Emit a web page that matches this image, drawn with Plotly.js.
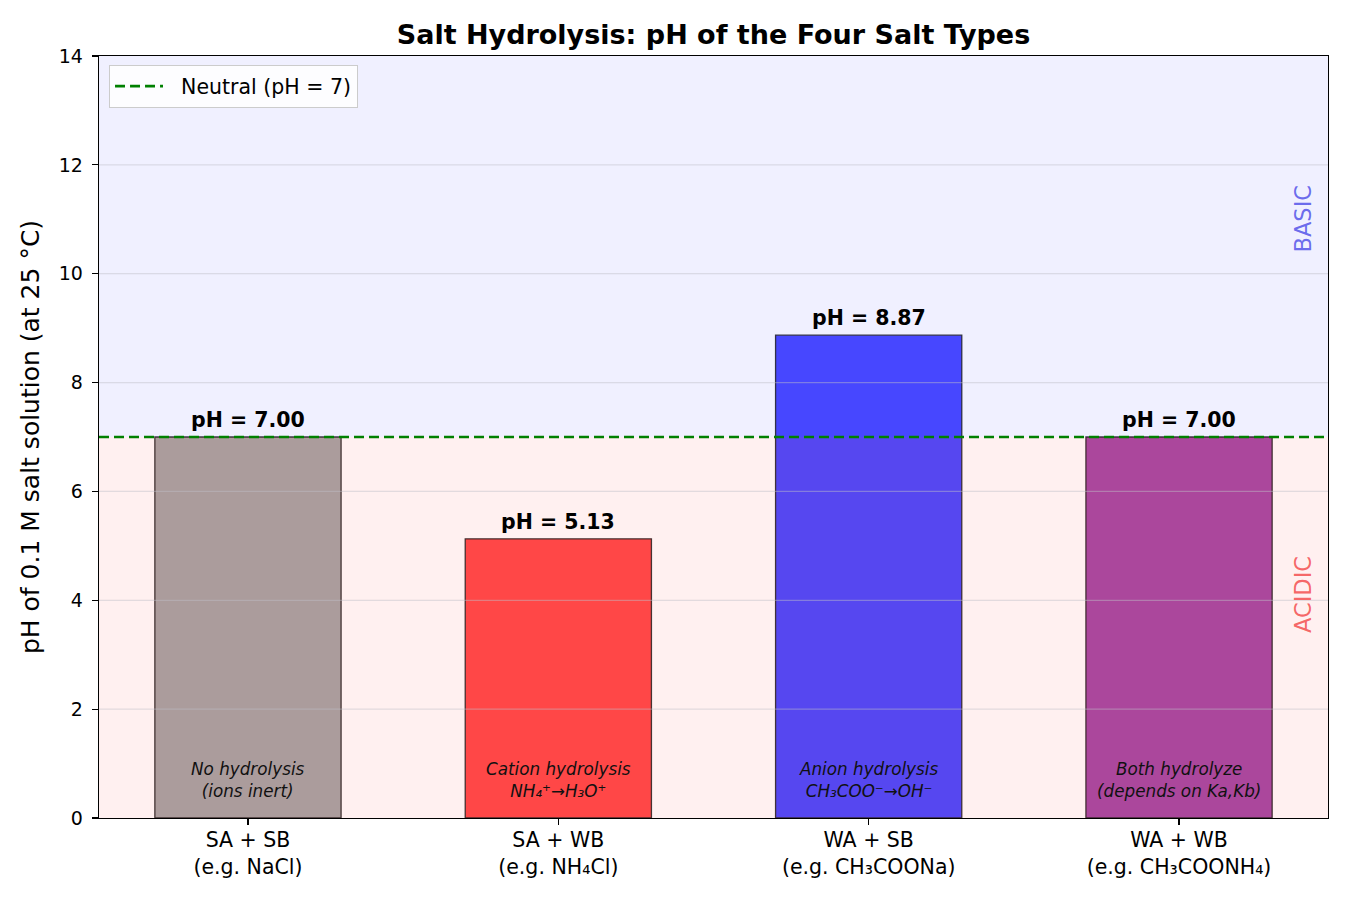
<!DOCTYPE html>
<html>
<head>
<meta charset="utf-8">
<script src="https://cdn.plot.ly/plotly-3.0.1.min.js"></script>
<style>
  html, body { margin: 0; padding: 0; background: #ffffff; }
  #chart { width: 1350px; height: 900px; }
</style>
</head>
<body>
<div id="chart"></div>
<script>
// Salt types (strong/weak acid + strong/weak base) and pH of 0.1 M solutions
const saltTypes = [
  "SA + SB<br>(e.g. NaCl)",
  "SA + WB<br>(e.g. NH₄Cl)",
  "WA + SB<br>(e.g. CH₃COONa)",
  "WA + WB<br>(e.g. CH₃COONH₄)"
];
const phValues = [7.00, 5.13, 8.87, 7.00];
const barColors = ["rgba(128,128,128,0.7)", "rgba(255,0,0,0.7)", "rgba(0,0,255,0.7)", "rgba(128,0,128,0.7)"];
const hydrolysisNotes = [
  "No hydrolysis<br>(ions inert)",
  "Cation hydrolysis<br>NH₄⁺→H₃O⁺",
  "Anion hydrolysis<br>CH₃COO⁻→OH⁻",
  "Both hydrolyze<br>(depends on Ka,Kb)"
];
const neutralPH = 7;
const phMax = 14;
const yTicks = [0, 2, 4, 6, 8, 10, 12, 14];

const FONT = "DejaVu Sans, Verdana, sans-serif";

const bars = {
  type: "bar",
  x: saltTypes,
  y: phValues,
  width: 0.6,
  marker: { color: barColors, line: { color: "rgba(40,40,40,0.9)", width: 1.3 } },
  showlegend: false,
  hoverinfo: "x+y"
};

// Acidic / basic background bands, grid lines and the neutral line sit on top
// of the bars so the translucent tint shows through them.
const shapes = [
  { type: "rect", xref: "paper", x0: 0, x1: 1, yref: "y", y0: 0, y1: neutralPH,
    fillcolor: "rgba(255,0,0,0.06)", line: { width: 0 }, layer: "above" },
  { type: "rect", xref: "paper", x0: 0, x1: 1, yref: "y", y0: neutralPH, y1: phMax,
    fillcolor: "rgba(0,0,255,0.06)", line: { width: 0 }, layer: "above" }
];
yTicks.slice(1, -1).forEach(t => {
  shapes.push({ type: "line", xref: "paper", x0: 0, x1: 1, yref: "y", y0: t, y1: t,
    line: { color: "rgba(190,190,200,0.45)", width: 1.2 }, layer: "above" });
});
shapes.push({
  type: "line", xref: "paper", x0: 0, x1: 1, yref: "y", y0: neutralPH, y1: neutralPH,
  line: { color: "green", width: 2.6, dash: "10px,5px" }, layer: "above",
  showlegend: true, name: "\u00a0\u00a0Neutral (pH = 7)"
});

const annotations = [];
phValues.forEach((v, i) => {
  annotations.push({
    x: i, y: v, xref: "x", yref: "y", yanchor: "bottom", yshift: 3,
    text: "<b>pH = " + v.toFixed(2) + "</b>", showarrow: false,
    font: { family: FONT, size: 20.5, color: "#000" }
  });
  annotations.push({
    x: i, y: 0.7, xref: "x", yref: "y", yanchor: "middle",
    text: "<i>" + hydrolysisNotes[i] + "</i>", showarrow: false,
    font: { family: FONT, size: 16.8, color: "#111" }
  });
});
annotations.push({
  x: 3.4, y: 11.0, xref: "x", yref: "y", text: "BASIC", textangle: -90, showarrow: false,
  font: { family: FONT, size: 22.5, color: "rgba(100,100,235,0.95)" }
});
annotations.push({
  x: 3.4, y: 4.1, xref: "x", yref: "y", text: "ACIDIC", textangle: -90, showarrow: false,
  font: { family: FONT, size: 22.5, color: "rgba(245,95,95,0.95)" }
});

const layout = {
  width: 1350, height: 900,
  margin: { l: 99, r: 22, t: 56, b: 82 },
  paper_bgcolor: "#ffffff",
  plot_bgcolor: "#ffffff",
  font: { family: FONT, size: 18.5, color: "#000" },
  title: {
    text: "<b>Salt Hydrolysis: pH of the Four Salt Types</b>",
    font: { family: FONT, size: 27, color: "#000" },
    x: 0.5, xref: "paper", xanchor: "center",
    y: 1, yref: "paper", yanchor: "bottom", pad: { b: 12 }
  },
  xaxis: {
    type: "category",
    range: [-0.48, 3.48],
    showline: true, mirror: true, linecolor: "#000", linewidth: 1.3,
    ticks: "outside", ticklen: 6, tickwidth: 1.2, tickcolor: "#000",
    ticklabelstandoff: -3,
    showgrid: false, zeroline: false,
    tickfont: { family: FONT, size: 20.5, color: "#000" }
  },
  yaxis: {
    range: [0, phMax],
    tickvals: yTicks,
    showline: true, mirror: true, linecolor: "#000", linewidth: 1.3,
    ticks: "outside", ticklen: 6, tickwidth: 1.2, tickcolor: "#000",
    ticklabelstandoff: 5,
    showgrid: false, zeroline: false,
    tickfont: { family: FONT, size: 19, color: "#000" },
    title: { text: "pH of 0.1 M salt solution (at 25 °C)", font: { family: FONT, size: 25, color: "#000" }, standoff: 12 }
  },
  showlegend: true,
  legend: {
    x: 0.008, y: 0.988, xanchor: "left", yanchor: "top",
    bgcolor: "rgba(255,255,255,0.85)", bordercolor: "#cccccc", borderwidth: 1.2,
    itemwidth: 48,
    font: { family: FONT, size: 20.5, color: "#000" }
  },
  shapes: shapes,
  annotations: annotations,
  bargap: 0.4
};

Plotly.newPlot("chart", [bars], layout, { displayModeBar: false, staticPlot: true });
</script>
</body>
</html>
